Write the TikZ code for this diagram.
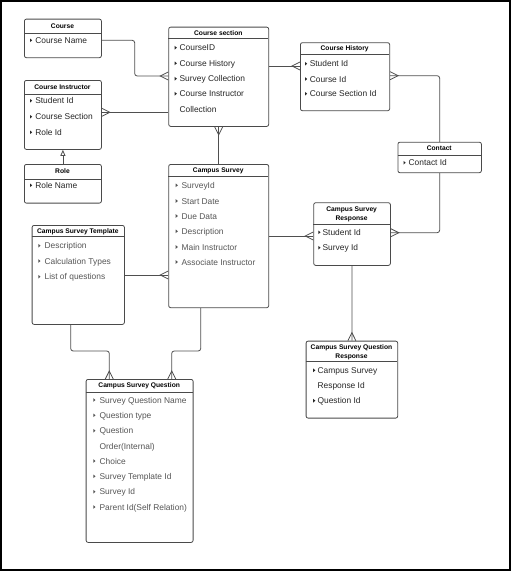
\documentclass[tikz,border=0pt]{standalone}
\usepackage{fontspec}
\setmainfont{Liberation Sans}
\usetikzlibrary{arrows.meta}
\pgfdeclarearrow{
  name = Crow,
  setup code = {
    \pgfarrowssettipend{0pt}
    \pgfarrowssetlineend{0pt}
    \pgfarrowssetbackend{-8pt}
    \pgfarrowssetvisualbackend{-8pt}
    \pgfarrowshullpoint{0pt}{4pt}
    \pgfarrowshullpoint{0pt}{-4pt}
    \pgfarrowshullpoint{-8pt}{0pt}
  },
  drawing code = {
    \pgfsetdash{}{0pt}
    \pgfpathmoveto{\pgfqpoint{0pt}{4pt}}
    \pgfpathlineto{\pgfqpoint{-8pt}{0pt}}
    \pgfpathlineto{\pgfqpoint{0pt}{-4pt}}
    \pgfusepathqstroke
  },
  defaults = {}
}
\definecolor{boxc}{HTML}{4A4A4A}
\definecolor{linec}{HTML}{4F4F4F}
\definecolor{colA}{HTML}{262626}
\definecolor{colB}{HTML}{555555}
\tikzset{
  box/.style={draw=boxc, line width=0.8pt, rounded corners=2pt, anchor=north west, inner sep=0pt, fill=white},
  divline/.style={draw=boxc, line width=0.8pt},
  ttl/.style={font=\bfseries\fontsize{6.7}{8}\selectfont, anchor=center, inner sep=0pt, text height=4.9pt, text depth=0pt},
  itm/.style={font=\fontsize{8.4}{10}\selectfont, anchor=base west, inner sep=0pt},
  conn/.style={draw=linec, line width=0.8pt, rounded corners=2.5pt},
  inh/.style={conn, -{Triangle[open, length=6pt, width=5pt, fill=white]}}
}
% entity box: name, x, y, width, height, divider y
\newcommand\entbox[6]{%
  \node[box, minimum width=#4pt, minimum height=#5pt] (#1) at (#2,#3) {};
  \draw[divline] (#2,#6) -- ({#2+#4},#6);}
% row with bullet: name, colour, bullet x, text x, centre y, text
\newcommand\brow[6]{%
  \fill[#2] ({#3-1},{#5-1.8}) -- ({#3+1.2},#5) -- ({#3-1},{#5+1.8}) -- cycle;
  \node[itm, text=#2] (#1) at (#4,{#5+3}) {#6};}
% continuation row: name, colour, text x, centre y, text
\newcommand\crow[5]{%
  \node[itm, text=#2] (#1) at (#3,{#4+3}) {#5};}
\begin{document}
\begin{tikzpicture}[x=1pt, y=-1pt]
\useasboundingbox (0,0) rectangle (511,571);
\draw[line width=1.3pt, black] (1,1) rectangle (510,570);

% ---- Course
\entbox{course}{24}{18.7}{77}{38.6}{33.3}
\node[ttl] (courseT) at (62.5,25.8) {Course};
\brow{course1}{colA}{31}{35.1}{40.3}{Course Name}

% ---- Course Instructor
\entbox{ci}{24}{80}{77}{69}{94.3}
\node[ttl] (ciT) at (62.5,87) {Course Instructor};
\brow{ci1}{colA}{31}{35.1}{100.7}{Student Id}
\brow{ci2}{colA}{31}{35.1}{116.7}{Course Section}
\brow{ci3}{colA}{31}{35.1}{132.3}{Role Id}

% ---- Role
\entbox{role}{24}{164}{77}{38.7}{179}
\node[ttl] (roleT) at (62.5,171.3) {Role};
\brow{role1}{colA}{31}{35.1}{185.3}{Role Name}

% ---- Course section
\entbox{cs}{168.3}{26.7}{100}{99.3}{38.3}
\node[ttl] (csT) at (218.3,32.8) {Course section};
\brow{cs1}{colA}{175.7}{179.4}{47.7}{CourseID}
\brow{cs2}{colA}{175.7}{179.4}{63.3}{Course History}
\brow{cs3}{colA}{175.7}{179.4}{78.7}{Survey Collection}
\brow{cs4}{colA}{175.7}{179.4}{93.7}{Course Instructor}
\crow{cs5}{colA}{179.4}{109}{Collection}

% ---- Course History
\entbox{ch}{300}{42.3}{89.3}{68}{54}
\node[ttl] (chT) at (344.65,48.3) {Course History};
\brow{ch1}{colA}{306}{309.6}{63.7}{Student Id}
\brow{ch2}{colA}{306}{309.6}{79}{Course Id}
\brow{ch3}{colA}{306}{309.6}{93.7}{Course Section Id}

% ---- Contact
\entbox{contact}{397.5}{141.8}{83.5}{30.5}{155.2}
\node[ttl] (contactT) at (439.25,148.2) {Contact};
\brow{contact1}{colA}{404.5}{408.4}{162.7}{Contact Id}

% ---- Campus Survey
\entbox{survey}{168.3}{164}{100}{143.3}{176.7}
\node[ttl] (surveyT) at (218.3,170.5) {Campus Survey};
\brow{sv1}{colB}{176.7}{181.4}{185.3}{SurveyId}
\brow{sv2}{colB}{176.7}{181.4}{201}{Start Date}
\brow{sv3}{colB}{176.7}{181.4}{216}{Due Data}
\brow{sv4}{colB}{176.7}{181.4}{231.3}{Description}
\brow{sv5}{colB}{176.7}{181.4}{247}{Main Instructor}
\brow{sv6}{colB}{176.7}{181.4}{262}{Associate Instructor}

% ---- Campus Survey Template
\entbox{tmpl}{31.7}{225}{92.3}{99}{236.7}
\node[ttl] (tmplT) at (77.85,230.8) {Campus Survey Template};
\brow{tp1}{colB}{39.3}{44.4}{245.7}{Description}
\brow{tp2}{colB}{39.3}{44.4}{261}{Calculation Types}
\brow{tp3}{colB}{39.3}{44.4}{276.7}{List of questions}

% ---- Campus Survey Response
\entbox{resp}{313.3}{202.3}{76.7}{62.7}{224.3}
\node[ttl] (respT1) at (351.65,209.3) {Campus Survey};
\node[ttl] (respT2) at (351.65,218) {Response};
\brow{rs1}{colA}{319.3}{322.4}{232.3}{Student Id}
\brow{rs2}{colA}{319.3}{322.4}{247.7}{Survey Id}

% ---- Campus Survey Question Response
\entbox{qr}{305.7}{340.7}{91.6}{77}{361}
\node[ttl] (qrT1) at (351.5,347.3) {Campus Survey Question};
\node[ttl] (qrT2) at (351.5,355.7) {Response};
\brow{qr1}{colA}{314.2}{317.4}{370.3}{Campus Survey}
\crow{qr2}{colA}{317.4}{385.7}{Response Id}
\brow{qr3}{colA}{314.2}{317.4}{400.7}{Question Id}

% ---- Campus Survey Question
\entbox{q}{85.7}{379}{107}{163}{392.3}
\node[ttl] (qT) at (139.2,385.4) {Campus Survey Question};
\brow{q1}{colB}{94.3}{99.4}{400}{Survey Question Name}
\brow{q2}{colB}{94.3}{99.4}{415.3}{Question type}
\brow{q3}{colB}{94.3}{99.4}{430.7}{Question}
\crow{q4}{colB}{99.4}{446}{Order(Internal)}
\brow{q5}{colB}{94.3}{99.4}{461}{Choice}
\brow{q6}{colB}{94.3}{99.4}{476.3}{Survey Template Id}
\brow{q7}{colB}{94.3}{99.4}{491.7}{Survey Id}
\brow{q8}{colB}{94.3}{99.4}{507}{Parent Id(Self Relation)}

% ---- connector levels
\coordinate (l1) at (0,40.3);
\coordinate (k1) at (134.7,76);
\coordinate (l2) at (0,112.3);
\coordinate (l4) at (0,66);
\coordinate (l5) at (0,75.7);
\coordinate (l6) at (0,232.7);
\coordinate (l8) at (0,236);
\coordinate (l9) at (0,275);
\coordinate (t11) at (70.7,351);
\coordinate (u11) at (109.3,351);
\coordinate (t12) at (200.7,351);
\coordinate (u12) at (171.7,351);

% ---- connectors
\draw[conn, -Crow] (course.east |- l1) -| (k1) -- (cs.west |- k1);
\draw[conn, Crow-] (ci.east |- l2) -- (cs.west |- l2);
\draw[inh] (role.north) -- (ci.south);
\draw[conn, -Crow] (cs.east |- l4) -- (ch.west |- l4);
\draw[conn, Crow-] (ch.east |- l5) -| (contact.north);
\draw[conn, -Crow] (contact.south) |- (resp.east |- l6);
\draw[conn, Crow-] (cs.south) -- (survey.north);
\draw[conn, -Crow] (survey.east |- l8) -- (resp.west |- l8);
\draw[conn, -Crow] (tmpl.east |- l9) -- (survey.west |- l9);
\draw[conn, -Crow] (resp.south) -- (qr.north);
\draw[conn, -Crow] (tmpl.south -| t11) -- (t11) -- (u11) -- (q.north -| u11);
\draw[conn, -Crow] (survey.south -| t12) -- (t12) -- (u12) -- (q.north -| u12);
\end{tikzpicture}
\end{document}
